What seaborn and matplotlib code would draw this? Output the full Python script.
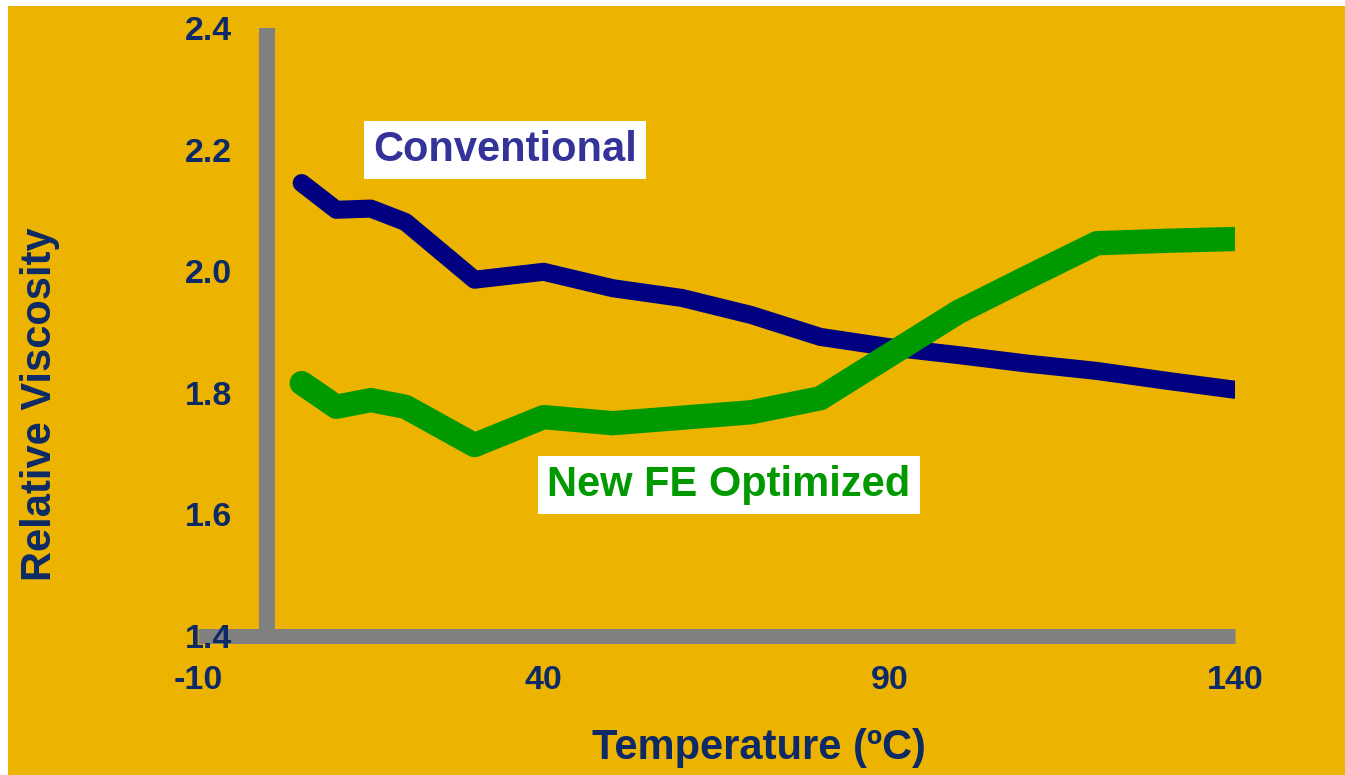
import numpy as np
import pandas as pd
import matplotlib.pyplot as plt
import seaborn as sns
from matplotlib.patches import Rectangle
from matplotlib.ticker import FormatStrFormatter

# data
temp_conv = [5, 10, 15, 20, 30, 40, 50, 60, 70, 80, 90, 100, 110, 120, 130, 140]
visc_conv = [2.145, 2.101, 2.103, 2.081, 1.986, 1.999, 1.972, 1.956, 1.928, 1.892,
             1.875, 1.862, 1.848, 1.836, 1.820, 1.805]

temp_fe = [5, 10, 15, 20, 30, 40, 50, 60, 70, 80, 90, 100, 110, 120, 130, 140]
visc_fe = [1.816, 1.777, 1.788, 1.777, 1.714, 1.760, 1.750, 1.759, 1.768, 1.791,
           1.862, 1.933, 1.990, 2.046, 2.050, 2.053]

x_ticks = [-10, 40, 90, 140]
y_ticks = [1.4, 1.6, 1.8, 2.0, 2.2, 2.4]

gold = '#ecb400'
navy_text = '#0d2a66'
grey = '#808080'

sns.set_theme(style='white')
plt.rcParams['font.family'] = ['Liberation Sans', 'DejaVu Sans']
plt.rcParams['font.weight'] = 'bold'
plt.rcParams['axes.unicode_minus'] = False

df_conv = pd.DataFrame({'Temperature': temp_conv, 'Viscosity': visc_conv})
df_fe = pd.DataFrame({'Temperature': temp_fe, 'Viscosity': visc_fe})

fig = plt.figure(figsize=(13.45, 7.75), dpi=100, facecolor=gold)
# white strips on left and top edge of the slide
fig.patches.append(Rectangle((0, 0), 8 / 1345, 1, transform=fig.transFigure,
                             facecolor='white', edgecolor='none', zorder=-1))
fig.patches.append(Rectangle((0, 1 - 6 / 775), 1, 6 / 775, transform=fig.transFigure,
                             facecolor='white', edgecolor='none', zorder=-1))

ax = fig.add_axes([198 / 1345, 139 / 775, 1037 / 1345, 608 / 775])
ax.set_facecolor('none')

sns.lineplot(data=df_conv, x='Temperature', y='Viscosity', ax=ax, color='#000080',
             linewidth=13, estimator=None, sort=False, solid_capstyle='round', zorder=3)
sns.lineplot(data=df_fe, x='Temperature', y='Viscosity', ax=ax, color='#009900',
             linewidth=17.5, estimator=None, sort=False, solid_capstyle='round', zorder=4)

ax.set_xlim(-10, 140)
ax.set_ylim(1.4, 2.4)
ax.set_xticks(x_ticks)
ax.set_yticks(y_ticks)
ax.yaxis.set_major_formatter(FormatStrFormatter('%.1f'))

for s in ['top', 'right']:
    ax.spines[s].set_visible(False)
ax.spines['left'].set_position(('data', 0))
ax.spines['left'].set_linewidth(11.5)
ax.spines['bottom'].set_linewidth(10.8)
for s in ['left', 'bottom']:
    ax.spines[s].set_color(grey)
    ax.spines[s].set_capstyle('butt')
    ax.spines[s].set_zorder(1)
# tick labels sit on top of the axis bars
ax.set_axisbelow(False)

ax.tick_params(axis='both', length=0, labelsize=24.5, labelcolor=navy_text)
ax.tick_params(axis='y', pad=25)
ax.tick_params(axis='x', pad=21)

ax.set_xlabel('Temperature (ºC)', fontsize=30, color=navy_text, fontweight='bold')
ax.set_ylabel('Relative Viscosity', fontsize=30, color=navy_text, fontweight='bold')
ax.xaxis.set_label_coords(0.541, -0.184)
ax.xaxis.label.set_va('center')
ax.yaxis.set_label_coords(-0.152, 0.382)
ax.yaxis.label.set_va('center')

ax.text(34.4, 2.199, 'Conventional', fontsize=30, color='#333399', fontweight='bold',
        ha='center', va='center',
        bbox=dict(boxstyle='square,pad=0.22', facecolor='white', edgecolor='none'))
ax.text(66.8, 1.648, 'New FE Optimized', fontsize=30, color='#009900', fontweight='bold',
        ha='center', va='center',
        bbox=dict(boxstyle='square,pad=0.22', facecolor='white', edgecolor='none'))

plt.savefig('out.png', dpi=100, facecolor=fig.get_facecolor())
